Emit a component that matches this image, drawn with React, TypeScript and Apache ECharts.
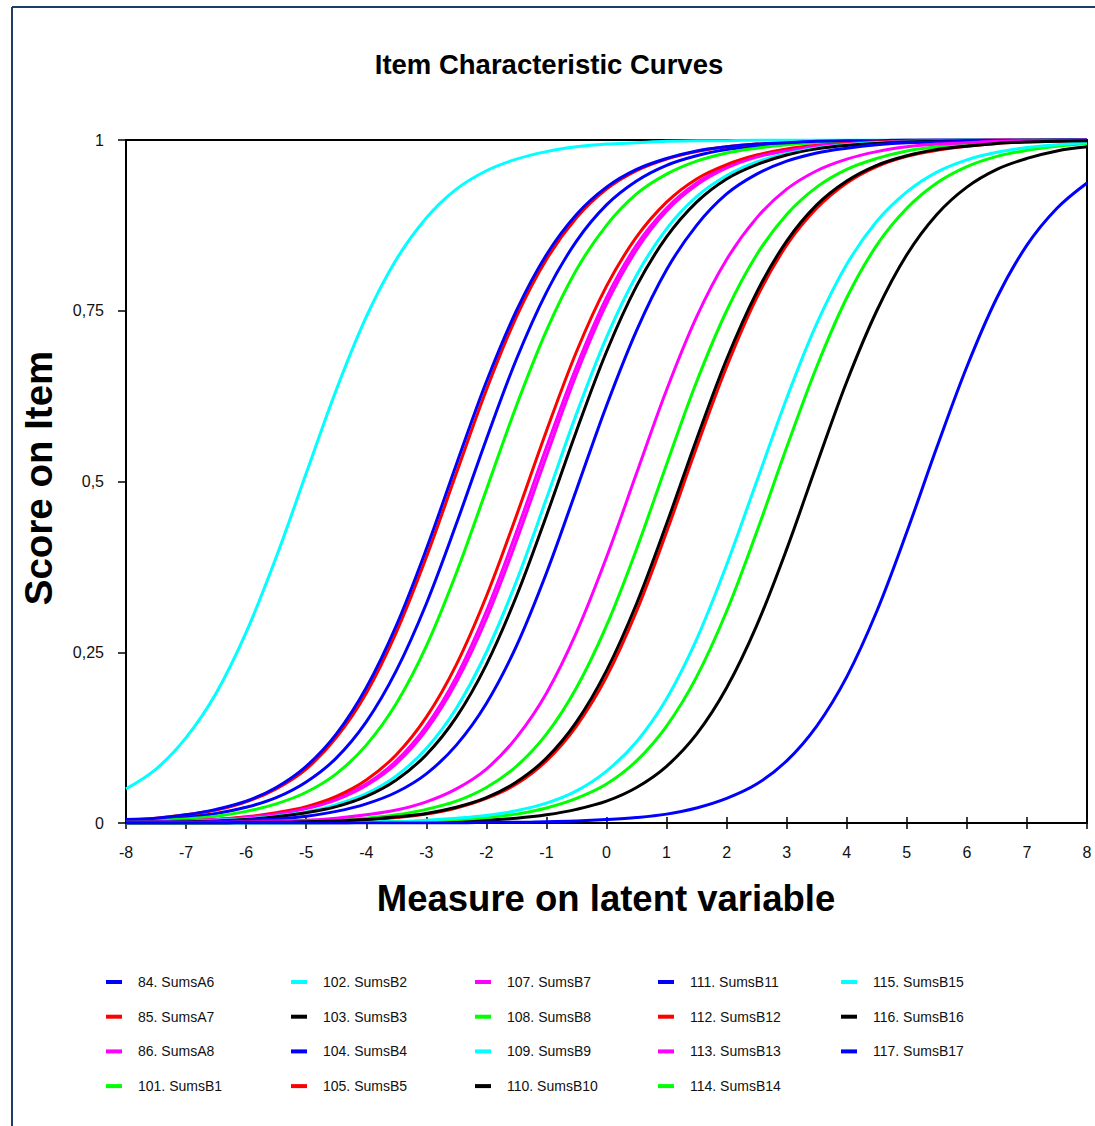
import React, { useEffect, useRef } from "react";
import * as echarts from "echarts";

// Ability scale (logits) at which each item curve is sampled
const measure = [
  -8, -7.5, -7, -6.5, -6, -5.5, -5, -4.5, -4, -3.5, -3, -2.5, -2, -1.5, -1, -0.5,
  0, 0.5, 1, 1.5, 2, 2.5, 3, 3.5, 4, 4.5, 5, 5.5, 6, 6.5, 7, 7.5, 8,
];

const itemNames = [
  "84. SumsA6", "85. SumsA7", "86. SumsA8", "101. SumsB1", "102. SumsB2",
  "103. SumsB3", "104. SumsB4", "105. SumsB5", "107. SumsB7", "108. SumsB8",
  "109. SumsB9", "110. SumsB10", "111. SumsB11", "112. SumsB12", "113. SumsB13",
  "114. SumsB14", "115. SumsB15", "116. SumsB16", "117. SumsB17",
];

const itemColors = [
  "#0000FF", "#FF0000", "#FF00FF", "#00FF00", "#00FFFF",
  "#000000", "#0000FF", "#FF0000", "#FF00FF", "#00FF00",
  "#00FFFF", "#000000", "#0000FF", "#FF0000", "#FF00FF",
  "#00FF00", "#00FFFF", "#000000", "#0000FF",
];

// Expected score on each item at every measure point
const sumsA6 = [0.003, 0.005, 0.009, 0.014, 0.023, 0.037, 0.06, 0.095, 0.148, 0.223, 0.321, 0.438, 0.562, 0.679, 0.777, 0.852, 0.905, 0.94, 0.963, 0.977, 0.986, 0.991, 0.995, 0.997, 0.998, 0.999, 0.999, 1, 1, 1, 1, 1, 1];
const sumsA7 = [0.004, 0.007, 0.012, 0.019, 0.031, 0.05, 0.079, 0.125, 0.19, 0.279, 0.389, 0.512, 0.634, 0.741, 0.825, 0.886, 0.928, 0.955, 0.972, 0.983, 0.99, 0.994, 0.996, 0.998, 0.999, 0.999, 1, 1, 1, 1, 1, 1, 1];
const sumsA8 = [0.001, 0.002, 0.003, 0.005, 0.008, 0.013, 0.022, 0.036, 0.057, 0.091, 0.142, 0.214, 0.31, 0.426, 0.55, 0.668, 0.769, 0.846, 0.9, 0.937, 0.961, 0.976, 0.985, 0.991, 0.995, 0.997, 0.998, 0.999, 0.999, 1, 1, 1, 1];
const sumsB1 = [0.002, 0.004, 0.006, 0.01, 0.017, 0.028, 0.045, 0.072, 0.114, 0.175, 0.259, 0.366, 0.488, 0.611, 0.721, 0.81, 0.875, 0.921, 0.95, 0.969, 0.981, 0.988, 0.993, 0.996, 0.997, 0.998, 0.999, 0.999, 1, 1, 1, 1, 1];
const sumsB2 = [0.05, 0.079, 0.125, 0.19, 0.279, 0.389, 0.512, 0.634, 0.741, 0.825, 0.886, 0.928, 0.955, 0.972, 0.983, 0.99, 0.994, 0.996, 0.998, 0.999, 0.999, 1, 1, 1, 1, 1, 1, 1, 1, 1, 1, 1, 1];
const sumsB3 = [0, 0, 0, 0, 0, 0, 0, 0, 0.001, 0.001, 0.002, 0.003, 0.004, 0.007, 0.012, 0.02, 0.032, 0.052, 0.083, 0.13, 0.198, 0.289, 0.401, 0.525, 0.646, 0.75, 0.832, 0.891, 0.931, 0.957, 0.973, 0.984, 0.99];
const sumsB4 = [0.005, 0.007, 0.012, 0.02, 0.032, 0.052, 0.083, 0.13, 0.198, 0.289, 0.401, 0.525, 0.646, 0.75, 0.832, 0.891, 0.931, 0.957, 0.973, 0.984, 0.99, 0.994, 0.996, 0.998, 0.999, 0.999, 1, 1, 1, 1, 1, 1, 1];
const sumsB5 = [0.001, 0.002, 0.003, 0.005, 0.009, 0.015, 0.024, 0.039, 0.063, 0.1, 0.155, 0.232, 0.332, 0.45, 0.574, 0.69, 0.786, 0.858, 0.909, 0.943, 0.964, 0.978, 0.987, 0.992, 0.995, 0.997, 0.998, 0.999, 0.999, 1, 1, 1, 1];
const sumsB7 = [0.001, 0.002, 0.003, 0.005, 0.008, 0.013, 0.021, 0.034, 0.055, 0.087, 0.136, 0.206, 0.299, 0.413, 0.537, 0.657, 0.76, 0.839, 0.896, 0.934, 0.959, 0.975, 0.984, 0.991, 0.994, 0.996, 0.998, 0.999, 0.999, 1, 1, 1, 1];
const sumsB8 = [0, 0, 0, 0.001, 0.001, 0.002, 0.003, 0.004, 0.007, 0.012, 0.02, 0.032, 0.052, 0.083, 0.13, 0.198, 0.289, 0.401, 0.525, 0.646, 0.75, 0.832, 0.891, 0.931, 0.957, 0.973, 0.984, 0.99, 0.994, 0.996, 0.998, 0.999, 0.999];
const sumsB9 = [0.001, 0.001, 0.002, 0.004, 0.006, 0.01, 0.016, 0.027, 0.043, 0.069, 0.109, 0.168, 0.25, 0.354, 0.475, 0.599, 0.711, 0.802, 0.87, 0.917, 0.948, 0.968, 0.98, 0.988, 0.993, 0.996, 0.997, 0.998, 0.999, 0.999, 1, 1, 1];
const sumsB10 = [0.001, 0.001, 0.002, 0.003, 0.005, 0.009, 0.015, 0.024, 0.039, 0.063, 0.1, 0.155, 0.232, 0.332, 0.45, 0.574, 0.69, 0.786, 0.858, 0.909, 0.943, 0.964, 0.978, 0.987, 0.992, 0.995, 0.997, 0.998, 0.999, 0.999, 1, 1, 1];
const sumsB11 = [0.001, 0.001, 0.001, 0.002, 0.004, 0.006, 0.01, 0.017, 0.028, 0.045, 0.072, 0.114, 0.175, 0.259, 0.366, 0.488, 0.611, 0.721, 0.81, 0.875, 0.921, 0.95, 0.969, 0.981, 0.988, 0.993, 0.996, 0.997, 0.998, 0.999, 0.999, 1, 1];
const sumsB12 = [0, 0, 0, 0, 0.001, 0.001, 0.002, 0.003, 0.005, 0.008, 0.013, 0.022, 0.036, 0.057, 0.091, 0.142, 0.214, 0.31, 0.426, 0.55, 0.668, 0.769, 0.846, 0.9, 0.937, 0.961, 0.976, 0.985, 0.991, 0.995, 0.997, 0.998, 0.999];
const sumsB13 = [0, 0, 0.001, 0.001, 0.002, 0.003, 0.004, 0.007, 0.012, 0.019, 0.031, 0.05, 0.079, 0.125, 0.19, 0.279, 0.389, 0.512, 0.634, 0.741, 0.825, 0.886, 0.928, 0.955, 0.972, 0.983, 0.99, 0.994, 0.996, 0.998, 0.999, 0.999, 1];
const sumsB14 = [0, 0, 0, 0, 0, 0, 0, 0.001, 0.001, 0.002, 0.003, 0.005, 0.008, 0.013, 0.022, 0.036, 0.057, 0.091, 0.142, 0.214, 0.31, 0.426, 0.55, 0.668, 0.769, 0.846, 0.9, 0.937, 0.961, 0.976, 0.985, 0.991, 0.995];
const sumsB15 = [0, 0, 0, 0, 0, 0, 0.001, 0.001, 0.002, 0.002, 0.004, 0.007, 0.011, 0.018, 0.029, 0.047, 0.076, 0.119, 0.182, 0.269, 0.378, 0.5, 0.622, 0.731, 0.818, 0.881, 0.924, 0.953, 0.971, 0.982, 0.989, 0.993, 0.996];
const sumsB16 = [0, 0, 0, 0, 0.001, 0.001, 0.002, 0.003, 0.005, 0.009, 0.014, 0.023, 0.037, 0.06, 0.095, 0.148, 0.223, 0.321, 0.438, 0.562, 0.679, 0.777, 0.852, 0.905, 0.94, 0.963, 0.977, 0.986, 0.991, 0.995, 0.997, 0.998, 0.999];
const sumsB17 = [0, 0, 0, 0, 0, 0, 0, 0, 0, 0, 0, 0, 0.001, 0.001, 0.002, 0.003, 0.005, 0.008, 0.013, 0.022, 0.036, 0.057, 0.091, 0.142, 0.214, 0.31, 0.426, 0.55, 0.668, 0.769, 0.846, 0.9, 0.937];

const itemScores = [
  sumsA6, sumsA7, sumsA8, sumsB1, sumsB2, sumsB3, sumsB4, sumsB5, sumsB7, sumsB8,
  sumsB9, sumsB10, sumsB11, sumsB12, sumsB13, sumsB14, sumsB15, sumsB16, sumsB17,
];

// Legend laid out column by column
const legendColumns = [
  ["84. SumsA6", "85. SumsA7", "86. SumsA8", "101. SumsB1"],
  ["102. SumsB2", "103. SumsB3", "104. SumsB4", "105. SumsB5"],
  ["107. SumsB7", "108. SumsB8", "109. SumsB9", "110. SumsB10"],
  ["111. SumsB11", "112. SumsB12", "113. SumsB13", "114. SumsB14"],
  ["115. SumsB15", "116. SumsB16", "117. SumsB17"],
];
const legendLefts = [106, 291, 475, 658, 841];

const FONT = "'Liberation Sans', Arial, sans-serif";

export default function App() {
  const ref = useRef<HTMLDivElement>(null);

  useEffect(() => {
    if (!ref.current) return;
    const chart = echarts.init(ref.current, null, { renderer: "svg" });

    const series = itemNames.map((name, i) => ({
      name,
      type: "line",
      xAxisIndex: 0,
      yAxisIndex: 0,
      data: measure.map((x, k) => [x, itemScores[i][k]]),
      showSymbol: false,
      smooth: 0.35,
      color: itemColors[i],
      lineStyle: { width: 3, color: itemColors[i] },
      itemStyle: { color: itemColors[i] },
      emphasis: { disabled: true },
    }));

    const legends = legendColumns.map((col, c) => ({
      orient: "vertical",
      left: legendLefts[c],
      top: 975,
      padding: 0,
      data: col,
      icon: "rect",
      itemWidth: 16,
      itemHeight: 4,
      itemGap: 20.7,
      selectedMode: false,
      formatter: (n: string) => `{n|${n}}`,
      textStyle: {
        rich: {
          n: {
            fontFamily: FONT,
            fontSize: 14,
            lineHeight: 16,
            color: "#111",
            padding: [0, 0, 0, 11],
          },
        },
      },
    }));

    chart.setOption({
      animation: false,
      backgroundColor: "#ffffff",
      grid: {
        left: 126,
        top: 140,
        width: 961,
        height: 683,
        show: true,
        borderColor: "#000",
        borderWidth: 2,
        backgroundColor: "transparent",
      },
      legend: legends,
      xAxis: [
        {
          type: "value",
          min: -8,
          max: 8,
          interval: 1,
          position: "bottom",
          axisLine: { show: true, onZero: false, lineStyle: { color: "#000", width: 2 } },
          axisTick: { show: true, inside: false, length: 6, lineStyle: { color: "#000", width: 1.5 } },
          axisLabel: { fontFamily: FONT, fontSize: 16, color: "#111", margin: 21 },
          splitLine: { show: false },
        },
        {
          type: "value",
          min: -8,
          max: 8,
          interval: 1,
          position: "bottom",
          axisLine: { show: false, onZero: false },
          axisTick: { show: true, inside: true, length: 6, lineStyle: { color: "#000", width: 1.5 } },
          axisLabel: { show: false },
          splitLine: { show: false },
        },
      ],
      yAxis: {
        type: "value",
        min: 0,
        max: 1,
        interval: 0.25,
        axisLine: { show: true, onZero: false, lineStyle: { color: "#000", width: 2 } },
        axisTick: { show: true, inside: false, length: 8, lineStyle: { color: "#000", width: 1.5 } },
        axisLabel: {
          fontFamily: FONT,
          fontSize: 16,
          color: "#111",
          margin: 22,
          formatter: (v: number) => String(v).replace(".", ","),
        },
        splitLine: { show: false },
      },
      graphic: [
        {
          type: "line",
          shape: { x1: 12, y1: 7, x2: 12, y2: 1126 },
          style: { stroke: "#1f3d66", lineWidth: 2 },
        },
        {
          type: "line",
          shape: { x1: 12, y1: 7, x2: 1095, y2: 7 },
          style: { stroke: "#1f3d66", lineWidth: 2 },
        },
        {
          type: "text",
          x: 549,
          y: 64,
          style: {
            text: "Item Characteristic Curves",
            fontFamily: FONT,
            fontSize: 27.5,
            fontWeight: "bold",
            fill: "#000",
            align: "center",
            verticalAlign: "middle",
          },
        },
        {
          type: "text",
          x: 606,
          y: 898,
          style: {
            text: "Measure on latent variable",
            fontFamily: FONT,
            fontSize: 36.5,
            fontWeight: "bold",
            fill: "#000",
            align: "center",
            verticalAlign: "middle",
          },
        },
        {
          type: "text",
          x: 38,
          y: 478,
          rotation: Math.PI / 2,
          style: {
            text: "Score on Item",
            fontFamily: FONT,
            fontSize: 38.5,
            fontWeight: "bold",
            fill: "#000",
            align: "center",
            verticalAlign: "middle",
          },
        },
      ],
      series,
    });

    return () => chart.dispose();
  }, []);

  return (
    <div
      ref={ref}
      style={{ position: "absolute", left: 0, top: 0, width: 1095, height: 1126, background: "#fff" }}
    />
  );
}
